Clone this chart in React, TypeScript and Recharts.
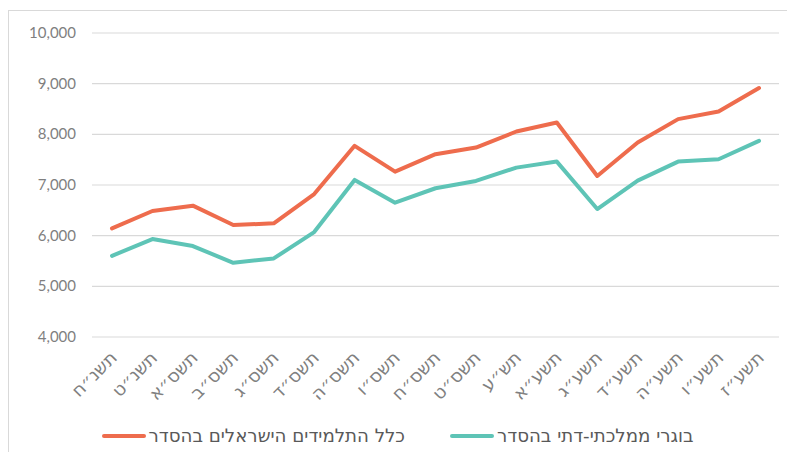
import React from "react";
import { LineChart, Line, XAxis, YAxis, CartesianGrid } from "recharts";

const YEARS = [
  "תשנ״ח", "תשנ״ט", "תשס״א", "תשס״ב", "תשס״ג", "תשס״ד", "תשס״ה", "תשס״ו", "תשס״ח",
  "תשס״ט", "תש״ע", "תשע״א", "תשע״ג", "תשע״ד", "תשע״ה", "תשע״ו", "תשע״ז",
];

// all Israeli students in hesder
const ALL_STUDENTS = [
  6144, 6487, 6592, 6210, 6243, 6822, 7773, 7264, 7608,
  7739, 8056, 8234, 7179, 7838, 8300, 8451, 8914,
];

// state-religious graduates in hesder
const STATE_RELIGIOUS = [
  5602, 5933, 5795, 5464, 5551, 6071, 7100, 6651, 6936,
  7080, 7343, 7462, 6526, 7086, 7462, 7509, 7871,
];

const Y_TICKS = [4000, 5000, 6000, 7000, 8000, 9000, 10000];

const SERIES = [
  { key: "all", name: "כלל התלמידים הישראלים בהסדר", color: "#EE6C4D" },
  { key: "mamad", name: "בוגרי ממלכתי-דתי בהסדר", color: "#5EC4B6" },
];

const data = YEARS.map((label, i) => ({
  label,
  all: ALL_STUDENTS[i],
  mamad: STATE_RELIGIOUS[i],
}));

const FONT = "Lato, 'Open Sans', sans-serif";
const HEB_FONT = "'DejaVu Sans', sans-serif";

const YTick = (props: any) => {
  const { y, payload } = props;
  return (
    <text x={76} y={y} dy={5} textAnchor="end" fill="#7f7f7f" fontSize={15} fontFamily={FONT}>
      {payload.value.toLocaleString("en-US")}
    </text>
  );
};

const XTick = (props: any) => {
  const { x, y, payload } = props;
  return (
    <text
      transform={`translate(${x + 6}, ${y + 14}) rotate(-45)`}
      textAnchor="end"
      fill="#808080"
      fontSize={18}
      fontFamily={HEB_FONT}
    >
      {payload.value}
    </text>
  );
};

export default function App() {
  return (
    <div style={{ position: "relative", width: 795, height: 460, margin: -8, background: "#fff", overflow: "hidden" }}>
      <div
        style={{
          position: "absolute",
          left: 8,
          top: 10,
          width: 820,
          height: 480,
          border: "1px solid #d9d9d9",
        }}
      />
      <div style={{ position: "absolute", left: 0, top: 0 }}>
        <LineChart width={795} height={460} data={data} margin={{ top: 33, right: 16, left: 0, bottom: 0 }}>
          <CartesianGrid vertical={false} stroke="#d9d9d9" strokeWidth={1.2} />
          <XAxis
            dataKey="label"
            interval={0}
            axisLine={false}
            tickLine={false}
            height={123}
            padding={{ left: 20, right: 20 }}
            tick={<XTick />}
          />
          <YAxis
            domain={[4000, 10000]}
            ticks={Y_TICKS}
            width={92}
            axisLine={false}
            tickLine={false}
            tick={<YTick />}
          />
          {SERIES.map((s) => (
            <Line
              key={s.key}
              dataKey={s.key}
              name={s.name}
              stroke={s.color}
              strokeWidth={4}
              dot={false}
              activeDot={false}
              strokeLinecap="round"
              strokeLinejoin="round"
              isAnimationActive={false}
            />
          ))}
        </LineChart>
      </div>
      {/* legend */}
      <div
        style={{
          position: "absolute",
          top: 425,
          left: 0,
          width: 795,
          display: "flex",
          justifyContent: "center",
          gap: 45,
          fontFamily: HEB_FONT,
          fontSize: 18.2,
          color: "#595959",
        }}
      >
        {SERIES.map((s) => (
          <div key={s.key} style={{ display: "flex", alignItems: "center", gap: 3 }}>
            <span style={{ width: 44, height: 4, borderRadius: 2, background: s.color }} />
            <span dir="rtl">{s.name}</span>
          </div>
        ))}
      </div>
    </div>
  );
}
